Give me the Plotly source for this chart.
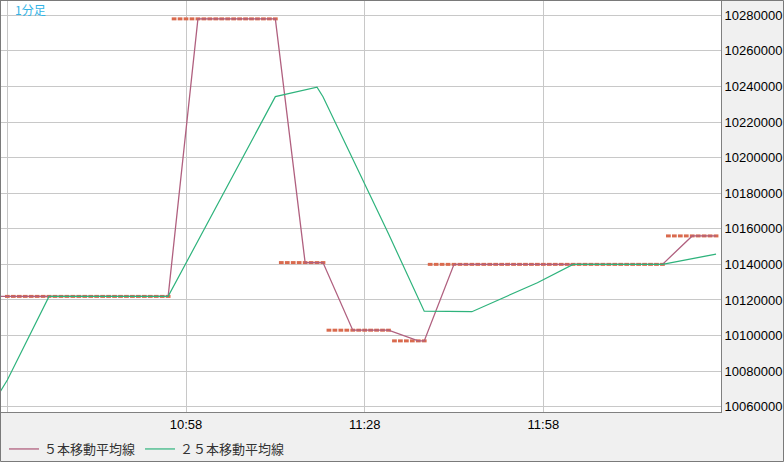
import pandas as pd
import plotly.graph_objects as go

DAY = "2024-01-15 "

# candle runs (flat 1-minute bars): start, end, price
run_start = ["10:28", "10:56", "11:14", "11:22", "11:33", "11:39", "12:19"]
run_end = ["10:55", "11:13", "11:21", "11:32", "11:38", "12:18", "12:27"]
run_price = [10122000, 10278000, 10141000, 10103000, 10097000, 10140000, 10156000]

# 5-period moving average (vertices)
ma5_time = ["10:20", "10:55", "11:00", "11:13", "11:18", "11:21", "11:26", "11:32",
            "11:37", "11:38", "11:43", "12:18", "12:23", "12:27"]
ma5_value = [10122000, 10122000, 10278000, 10278000, 10141000, 10141000, 10103000,
             10103000, 10097000, 10097000, 10140000, 10140000, 10156000, 10156000]

# 25-period moving average (vertices)
ma25_time = ["10:26", "10:28", "10:35", "10:55", "11:13", "11:20", "11:21", "11:32",
             "11:38", "11:46", "11:57", "12:03", "12:18", "12:27"]
ma25_value = [10064000, 10075000, 10122000, 10122000, 10234300, 10239600, 10234200,
              10157200, 10113700, 10113400, 10129700, 10140000, 10140000, 10145800]

tick_times = ["10:28", "10:58", "11:28", "11:58"]
tick_text = ["", "10:58", "11:28", "11:58"]
y_ticks = list(range(10060000, 10280001, 20000))

bar_t, bar_p = [], []
for s, e, p in zip(run_start, run_end, run_price):
    for t in pd.date_range(DAY + s, DAY + e, freq="1min"):
        bar_t.append(t)
        bar_p.append(p)

ORANGE = "#d96a4e"
PURPLE = "#b0607f"
GREEN = "#2eb37c"

fig = go.Figure()
fig.add_trace(go.Scatter(
    x=bar_t, y=bar_p, mode="markers", showlegend=False, hoverinfo="skip",
    marker=dict(symbol="line-ew", size=3.4, color=ORANGE,
                line=dict(color=ORANGE, width=3)),
))
fig.add_trace(go.Scatter(
    x=[pd.Timestamp(DAY + t) for t in ma5_time], y=ma5_value, mode="lines",
    name="５本移動平均線", line=dict(color=PURPLE, width=1.3),
))
fig.add_trace(go.Scatter(
    x=[pd.Timestamp(DAY + t) for t in ma25_time], y=ma25_value, mode="lines",
    name="２５本移動平均線", line=dict(color=GREEN, width=1.2),
))

W, H = 784, 462
L, R, T, B = 1, 63, 1, 50
pw, ph = W - L - R, H - T - B

fig.update_layout(
    template="none",
    width=W, height=H,
    margin=dict(l=L, r=R, t=T, b=B, pad=0),
    paper_bgcolor="#f0f0f0",
    plot_bgcolor="#ffffff",
    font=dict(family="Liberation Sans", size=13, color="#000000"),
    showlegend=True,
    legend=dict(
        orientation="h", xref="container", yref="container",
        x=4 / W, y=1 - 449 / H, xanchor="left", yanchor="middle",
        bgcolor="rgba(0,0,0,0)", borderwidth=0,
        font=dict(family="Noto Sans CJK JP", size=13, color="#333333"),
        tracegroupgap=0,
    ),
    xaxis=dict(
        type="date",
        range=[DAY + "10:26:56", DAY + "12:27:50"],
        tickvals=[pd.Timestamp(DAY + t) for t in tick_times],
        ticktext=tick_text,
        showgrid=True, gridcolor="#c8c8c8", gridwidth=1,
        showline=True, linecolor="#808080", linewidth=1, mirror=True,
        ticks="", zeroline=False, automargin=False,
        tickfont=dict(family="Liberation Sans", size=13, color="#000000"),
    ),
    yaxis=dict(
        side="right",
        range=[10057020, 10288040],
        tickvals=y_ticks,
        ticktext=[str(v) for v in y_ticks],
        showgrid=True, gridcolor="#c8c8c8", gridwidth=1,
        showline=True, linecolor="#808080", linewidth=1, mirror=True,
        ticks="", zeroline=False, automargin=False,
        tickfont=dict(family="Liberation Sans", size=13, color="#000000"),
    ),
    annotations=[dict(
        text="1分足", xref="paper", yref="paper",
        x=(13 - L) / pw, y=(ph + T - 9.5) / ph, xanchor="left", yanchor="middle",
        showarrow=False,
        font=dict(family="Noto Sans CJK JP", size=12, color="#33b4e6"),
    )],
    shapes=[dict(
        type="rect", xref="paper", yref="paper",
        x0=(0.5 - L) / pw, x1=(W - 0.5 - L) / pw,
        y0=(ph + T - (H - 0.5)) / ph, y1=(ph + T - 0.5) / ph,
        line=dict(color="#7a7a7a", width=1), fillcolor="rgba(0,0,0,0)",
        layer="above",
    )],
)

fig.write_html("out.html", config={"displayModeBar": False},
               post_script="document.body.style.margin='0px';")
